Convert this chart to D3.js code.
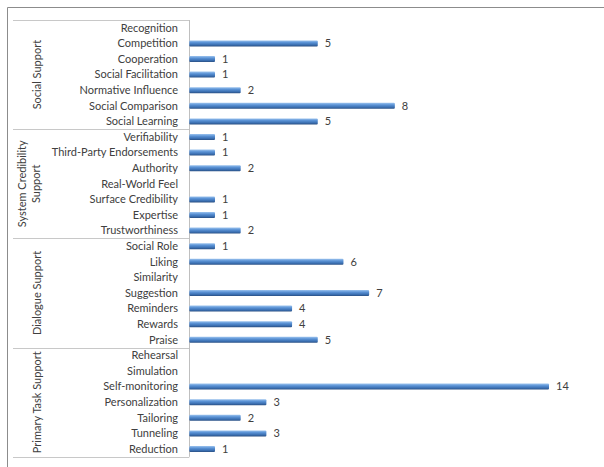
<!DOCTYPE html>
<html><head><meta charset="utf-8">
<script src="https://cdn.jsdelivr.net/npm/d3@7"></script>
<style>body{margin:0;background:#fff}svg{display:block}</style>
</head><body><svg id="c" width="604" height="467"></svg>
<script>
const groups = ["Social Support","System Credibility Support","Dialogue Support","Primary Task Support"];
const groupLines = [["Social Support"],["System Credibility","Support"],["Dialogue Support"],["Primary Task Support"]];
const categories = [
 "Recognition","Competition","Cooperation","Social Facilitation","Normative Influence","Social Comparison","Social Learning",
 "Verifiability","Third-Party Endorsements","Authority","Real-World Feel","Surface Credibility","Expertise","Trustworthiness",
 "Social Role","Liking","Similarity","Suggestion","Reminders","Rewards","Praise",
 "Rehearsal","Simulation","Self-monitoring","Personalization","Tailoring","Tunneling","Reduction"];
const categoryGroup = [0,0,0,0,0,0,0,1,1,1,1,1,1,1,2,2,2,2,2,2,2,3,3,3,3,3,3,3];
const values = [0,5,1,1,2,8,5, 1,1,2,0,1,1,2, 1,6,0,7,4,4,5, 0,0,14,3,2,3,1];

(function(){
const svg = d3.select("#c");
const font = "Lato, 'Open Sans', sans-serif";
const topY = 20, rowH = 15.6, axisX = 189.3;
const y = d3.scaleBand().domain(categories).range([topY, topY + rowH*categories.length]);
const x = d3.scaleLinear().domain([0, 14]).range([axisX, 549]);

const defs = svg.append("defs");
const g = defs.append("linearGradient").attr("id","bg").attr("x1",0).attr("y1",0).attr("x2",0).attr("y2",1);
g.append("stop").attr("offset","0%").attr("stop-color","#9cc3ee");
g.append("stop").attr("offset","35%").attr("stop-color","#5b93d6");
g.append("stop").attr("offset","75%").attr("stop-color","#3a6eb0");
g.append("stop").attr("offset","100%").attr("stop-color","#2a4f82");

svg.append("line").attr("x1",7.5).attr("x2",604).attr("y1",7.5).attr("y2",7.5).attr("stroke","#8c8c8c");
svg.append("line").attr("x1",7.5).attr("x2",7.5).attr("y1",7.5).attr("y2",467).attr("stroke","#8c8c8c");

const gl = svg.append("g").attr("stroke","#c8c8c8");
const bounds = [0,7,14,21,28];
bounds.forEach(b => {
  const yy = Math.round(topY + b*rowH) + 0.5;
  gl.append("line").attr("x1",13).attr("x2",axisX).attr("y1",yy).attr("y2",yy);
});
gl.append("line").attr("x1",Math.round(axisX)+0.5).attr("x2",Math.round(axisX)+0.5)
  .attr("y1",topY).attr("y2",topY+rowH*28).attr("stroke","#bfbfbf");

svg.append("g").selectAll("text").data(categories).join("text")
  .attr("x",178).attr("y",d=>y(d)+y.bandwidth()/2).attr("dy","0.35em")
  .attr("text-anchor","end").attr("font-family",font).attr("font-size",11).attr("fill","#404040")
  .text(d=>d);

groupLines.forEach((lines,i)=>{
  const cy = topY + (bounds[i]+bounds[i+1])/2*rowH;
  const n = lines.length;
  lines.forEach((ln,j)=>{
    const cx = 37 - (n-1-j)*14 + (n>1?-1:0);
    svg.append("text").attr("transform",`translate(${cx},${cy}) rotate(-90)`)
      .attr("text-anchor","middle").attr("dy","0.35em")
      .attr("font-family",font).attr("font-size",11).attr("fill","#404040").text(ln);
  });
});

const bh = 6;
const bars = categories.map((c,i)=>({c, v: values[i]})).filter(d=>d.v>0);
svg.append("g").selectAll("rect").data(bars).join("rect")
  .attr("x",x(0)).attr("y",d=>y(d.c)+y.bandwidth()/2-bh/2)
  .attr("width",d=>x(d.v)-x(0)).attr("height",bh).attr("fill","url(#bg)").attr("rx",1);

svg.append("g").selectAll("text").data(bars).join("text")
  .attr("x",d=>x(d.v)+7).attr("y",d=>y(d.c)+y.bandwidth()/2).attr("dy","0.35em")
  .attr("font-family",font).attr("font-size",11).attr("fill","#404040").text(d=>d.v);
})();
</script></body></html>
